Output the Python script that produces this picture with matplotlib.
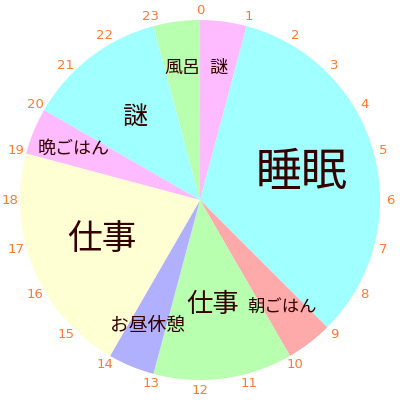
import numpy as np
import matplotlib
matplotlib.use("Agg")
import matplotlib.pyplot as plt

plt.rcParams['font.family'] = ['Noto Sans CJK JP', 'DejaVu Sans']

# activities: (start hour, end hour)
activities = ["謎", "睡眠", "朝ごはん", "仕事", "お昼休憩", "仕事", "晩ごはん", "謎", "風呂"]
starts = [0, 1, 9, 10, 13, 14, 19, 20, 23]
ends = [1, 9, 10, 13, 14, 19, 20, 23, 24]
colors = ["#ffbbff", "#a0ffff", "#ffaaaa", "#b8ffb0", "#b0b0ff", "#ffffd4", "#ffbbff", "#a0ffff", "#b8ffb0"]
hours = list(range(24))

durations = [e - s for s, e in zip(starts, ends)]

fig = plt.figure(figsize=(4, 4), dpi=100)
ax = fig.add_axes([0, 0, 1, 1])

cx, cy, R = 200, 200, 180
ax.pie(durations, colors=colors, startangle=90, counterclock=False,
       center=(cx, cy), radius=R, frame=True,
       wedgeprops=dict(linewidth=0))
ax.set_xlim(0, 400)
ax.set_ylim(0, 400)
ax.set_aspect('equal')
ax.axis('off')

# hour ticks
for h in hours:
    ang = np.deg2rad(90 - h * 15)
    ax.text(cx + 190 * np.cos(ang), cy + 190 * np.sin(ang), str(h),
            ha='center', va='center', fontsize=9.5, color='#ff7a33',
            family='DejaVu Sans')

# slice labels (pixel positions, y from top)
labels = [
    ("風呂", 182, 68, 13),
    ("謎", 218, 68, 13),
    ("謎", 136, 117, 18),
    ("晩ごはん", 74, 149, 13),
    ("睡眠", 302, 173, 33),
    ("仕事", 102, 240, 25),
    ("仕事", 213, 304, 19),
    ("朝ごはん", 282, 307, 12.5),
    ("お昼休憩", 148, 326, 13.5),
]
for t, x, y, fs in labels:
    ax.text(x, 400 - y, t, ha='center', va='center', fontsize=fs, color='#330000')

fig.savefig("out.png", dpi=100)
